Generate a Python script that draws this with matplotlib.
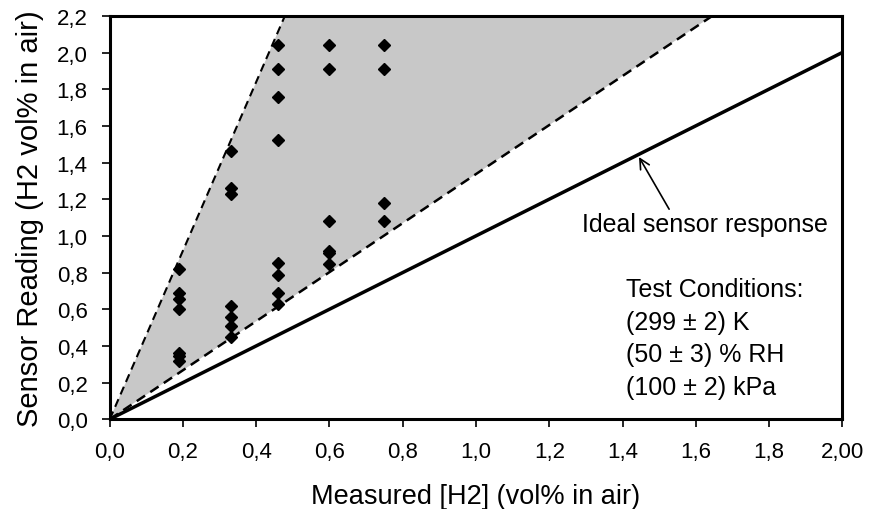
import matplotlib
matplotlib.use("Agg")
import matplotlib.pyplot as plt
import numpy as np

plt.rcParams['font.family'] = ['Liberation Sans', 'DejaVu Sans']

# measured concentration (vol% H2) and sensor readings
meas_x = [0.19, 0.19, 0.19, 0.19, 0.19, 0.19, 0.19,
          0.33, 0.33, 0.33, 0.33, 0.33, 0.33, 0.33,
          0.46, 0.46, 0.46, 0.46, 0.46, 0.46, 0.46, 0.46,
          0.60, 0.60, 0.60, 0.60, 0.60, 0.60,
          0.75, 0.75, 0.75, 0.75]
reading_y = [0.82, 0.69, 0.655, 0.60, 0.36, 0.345, 0.32,
             1.465, 1.26, 1.23, 0.62, 0.56, 0.51, 0.45,
             2.04, 1.91, 1.756, 1.525, 0.85, 0.785, 0.69, 0.626,
             2.04, 1.91, 1.08, 0.915, 0.905, 0.845,
             2.04, 1.91, 1.18, 1.08]

upper_slope = 4.6
lower_slope = 1.337
ideal_x = [0.0, 2.0]

xticks = [0.0, 0.2, 0.4, 0.6, 0.8, 1.0, 1.2, 1.4, 1.6, 1.8, 2.0]
xlabels = ['0,0', '0,2', '0,4', '0,6', '0,8', '1,0', '1,2', '1,4', '1,6', '1,8', '2,00']
yticks = [0.0, 0.2, 0.4, 0.6, 0.8, 1.0, 1.2, 1.4, 1.6, 1.8, 2.0, 2.2]
ylabels = ['0,0', '0,2', '0,4', '0,6', '0,8', '1,0', '1,2', '1,4', '1,6', '1,8', '2,0', '2,2']

conditions = ['Test Conditions:', '(299 \u00b1 2) K', '(50 \u00b1 3) % RH', '(100 \u00b1 2) kPa']

fig = plt.figure(figsize=(8.71, 5.10), dpi=100)
ax = fig.add_axes([0.126, 0.176, 0.841, 0.791])

xs = np.linspace(0, 2.0, 200)
ax.fill_between(xs, lower_slope * xs, upper_slope * xs, color='#c8c8c8', lw=0)
ax.plot(xs, upper_slope * xs, color='black', ls='--', lw=1.5, dashes=(4, 2.5))
ax.plot(xs, lower_slope * xs, color='black', ls='--', lw=1.8, dashes=(4, 2.5))
ax.plot(ideal_x, ideal_x, color='black', lw=2.5)
ax.plot(meas_x, reading_y, 'D', color='black', ms=6.5, ls='none')

ax.set_xlim(0, 2.0)
ax.set_ylim(0, 2.2)
ax.set_xticks(xticks)
ax.set_xticklabels(xlabels)
ax.set_yticks(yticks)
ax.set_yticklabels(ylabels)
ax.tick_params(labelsize=16, length=6, width=1.2, direction='out', pad=10)
for s in ax.spines.values():
    s.set_linewidth(2.2)

ax.set_xlabel('Measured [H2] (vol% in air)', fontsize=19.5, labelpad=15)
ax.set_ylabel('Sensor Reading (H2 vol% in air)', fontsize=21, labelpad=9)

ax.annotate('Ideal sensor response', xy=(1.445, 1.43), xytext=(1.29, 1.065),
            fontsize=18, va='center', ha='left',
            arrowprops=dict(arrowstyle='->', color='black', lw=1.2,
                            shrinkA=0, shrinkB=0, relpos=(0.36, 1.0)))

for i, line in enumerate(conditions):
    ax.text(1.41, 0.71 - i * 0.178, line, fontsize=18, va='center', ha='left')

fig.savefig('out.png', dpi=100)
